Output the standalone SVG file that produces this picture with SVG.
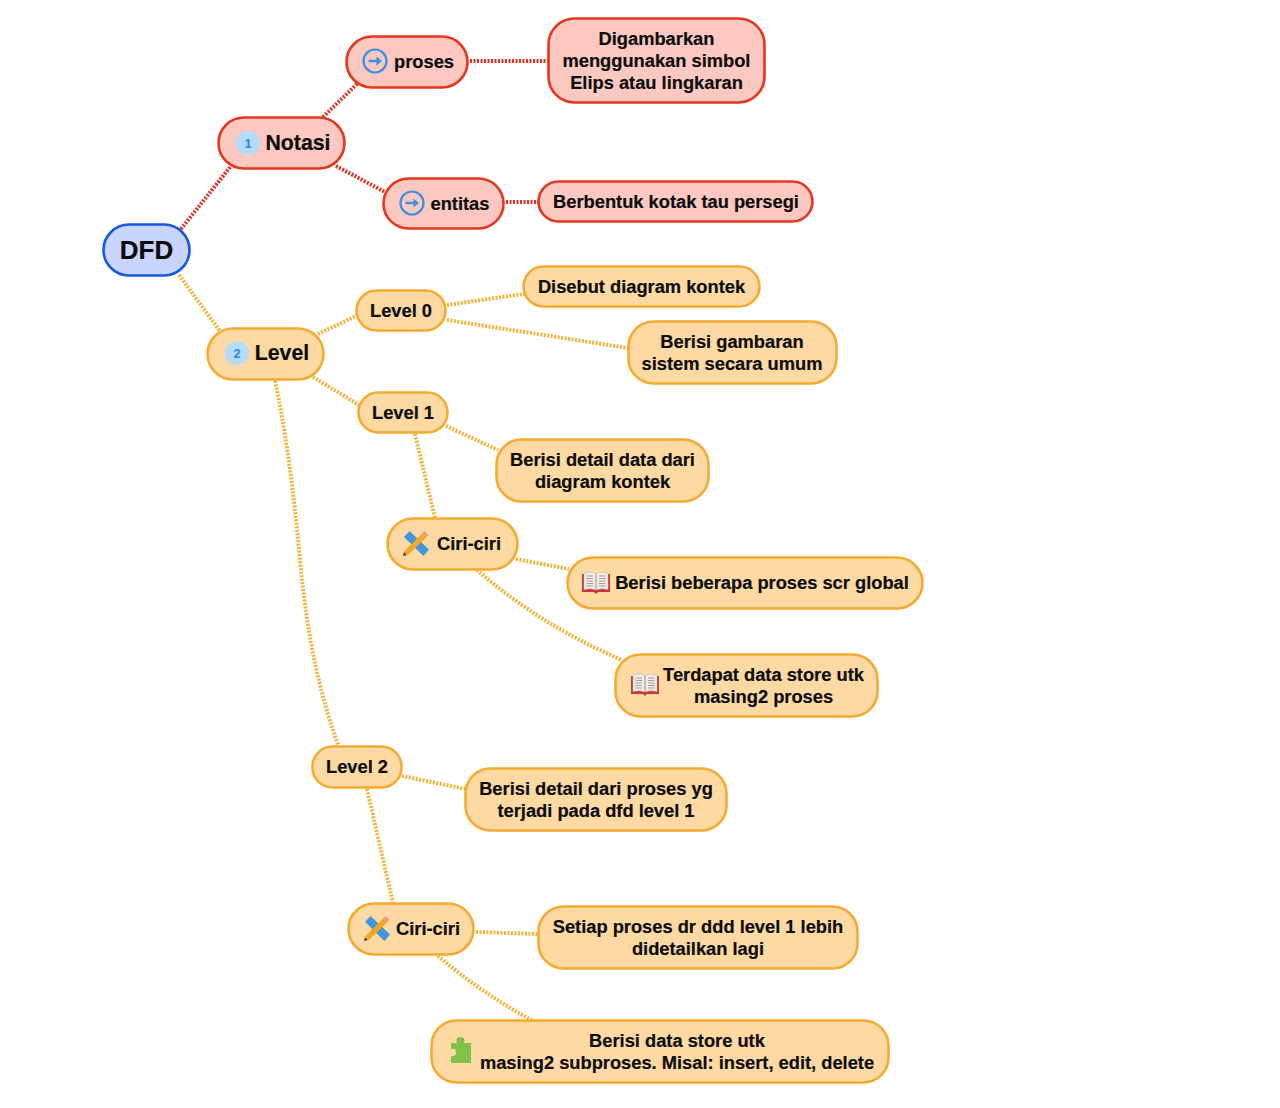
<svg xmlns="http://www.w3.org/2000/svg" xmlns:xlink="http://www.w3.org/1999/xlink" width="1280" height="1108" viewBox="0 0 1280 1108">
<style>
text{font-family:"Liberation Sans",Arial,sans-serif;font-weight:700;fill:#0c0c0c;text-anchor:middle;stroke:#0c0c0c;stroke-width:.2}
.t18{font-size:18.3px}.t21{font-size:21.300px}.t25{font-size:26px}
.box{stroke-width:2.600}
.red{fill:#fcc9c1;stroke:#e6361f}
.ora{fill:#fdd9a4;stroke:#f5ab30}
.blu{fill:#c9d5fc;stroke:#1559dc}
.cr,.co{fill:none;stroke-width:4;stroke-dasharray:2 1.500}
.cr{stroke:#e2321f}.co{stroke:#f5b338}
</style>
<defs>
<symbol id="arrow" viewBox="0 0 26 26" overflow="visible">
<circle cx="13" cy="13" r="11.500" fill="none" stroke="#3a8fe6" stroke-width="2.200"/>
<path d="M6.500 13H18" fill="none" stroke="#3a8fe6" stroke-width="2.400"/>
<path d="M14.500 8.500 20 13 14.500 17.500Z" fill="#3a8fe6"/>
</symbol>
<symbol id="tools" viewBox="0 0 26 26" overflow="visible">
<path d="M1 6 6.500 0 26 18.500 20.500 25Z" fill="#3f97dc"/>
<path d="M0 25 1.500 20 19.500 2 23.500 6 5 24Z" fill="#f5a623"/>
<path d="M19.500 2 21.500 0 25.500 4 23.500 6Z" fill="#ee8f9a"/>
<path d="M0 25 1 21.500 3.500 24Z" fill="#333"/>
</symbol>
<symbol id="book" viewBox="0 0 28 22" overflow="visible">
<path d="M0 2H28V20H16L14 22 12 20H0Z" fill="#c6383a"/>
<path d="M2 1Q9 -1 13.700 1.500V18Q9 16 2 17.500Z M26 1Q19 -1 14.300 1.500V18Q19 16 26 17.500Z" fill="#f0ece6" stroke="#bdb8b2" stroke-width=".5"/>
<path d="M4.500 4H11M4.500 6.500H11M4.500 9H11M4.500 11.500H11M4.500 14H11M17 4H23.500M17 6.500H23.500M17 9H23.500M17 11.500H23.500M17 14H23.500" stroke="#a3a09d" stroke-width="1" fill="none"/>
</symbol>
</defs>

<g id="connectors">
<path class="cr" d="M181 229 231 166"/>
<path class="cr" d="M323 117 358 83"/>
<path class="cr" d="M336 166 385 192"/>
<path class="cr" d="M470 61H548"/>
<path class="cr" d="M506 202H538"/>
<path class="co" d="M179 275 220 331"/>
<path class="co" d="M318 334 356 316"/>
<path class="co" d="M313 377 359 405"/>
<path class="co" d="M275 381Q290 450 300 560T339 747"/>
<path class="co" d="M447 305 524 294"/>
<path class="co" d="M447 320 628 348"/>
<path class="co" d="M446 426 498 450"/>
<path class="co" d="M415 434 435 518"/>
<path class="co" d="M516 559 569 569"/>
<path class="co" d="M477 570Q540 625 622 660"/>
<path class="co" d="M402 776 466 789"/>
<path class="co" d="M367 789 393 903"/>
<path class="co" d="M476 932 538 934"/>
<path class="co" d="M438 956Q480 992 533 1021"/>
</g>

<g id="n-dfd"><rect class="box blu" x="103.500" y="224.500" width="86" height="51" rx="25.500"/><text class="t25" x="146.500" y="259">DFD</text></g>
<g id="n-notasi"><rect class="box red" x="218.500" y="117.500" width="126" height="51" rx="25.500"/><circle cx="248" cy="143" r="12" fill="#b5dcfa"/><text x="248" y="148" font-size="12" style="fill:#2f86d8;stroke:#2f86d8">1</text><text class="t21" x="298" y="150">Notasi</text></g>
<g id="n-proses"><rect class="box red" x="346.500" y="36.500" width="121" height="51" rx="25.500"/><use href="#arrow" x="362" y="48" width="26" height="26"/><text class="t18" x="424" y="68">proses</text></g>
<g id="n-proses-d"><rect class="box red" x="548.500" y="18.500" width="216" height="84" rx="26"/><text class="t18" x="656.500" y="45">Digambarkan</text><text class="t18" x="656.500" y="67">menggunakan simbol</text><text class="t18" x="656.500" y="89">Elips atau lingkaran</text></g>
<g id="n-entitas"><rect class="box red" x="383.500" y="178.500" width="120" height="50" rx="25"/><use href="#arrow" x="399" y="190" width="26" height="26"/><text class="t18" x="460" y="210">entitas</text></g>
<g id="n-entitas-d"><rect class="box red" x="538.500" y="181.500" width="274" height="40" rx="20"/><text class="t18" x="676" y="208">Berbentuk kotak tau persegi</text></g>
<g id="n-level"><rect class="box ora" x="207.500" y="328.500" width="116" height="51" rx="25.500"/><circle cx="237" cy="353" r="12" fill="#b5dcfa"/><text x="237" y="358" font-size="12" style="fill:#2f86d8;stroke:#2f86d8">2</text><text class="t21" x="282" y="360">Level</text></g>
<g id="n-level0"><rect class="box ora" x="356.500" y="290.500" width="89" height="40" rx="20"/><text class="t18" x="401" y="317">Level 0</text></g>
<g id="n-level0-a"><rect class="box ora" x="523.500" y="266.500" width="236" height="40" rx="20"/><text class="t18" x="641.500" y="293">Disebut diagram kontek</text></g>
<g id="n-level0-b"><rect class="box ora" x="628.500" y="321.500" width="208" height="62" rx="25"/><text class="t18" x="732" y="348">Berisi gambaran</text><text class="t18" x="732" y="370">sistem secara umum</text></g>
<g id="n-level1"><rect class="box ora" x="358.500" y="392.500" width="89" height="40" rx="20"/><text class="t18" x="403" y="419">Level 1</text></g>
<g id="n-level1-a"><rect class="box ora" x="496.500" y="439.500" width="212" height="62" rx="25"/><text class="t18" x="602.500" y="466">Berisi detail data dari</text><text class="t18" x="602.500" y="488">diagram kontek</text></g>
<g id="n-ciri1"><rect class="box ora" x="387.500" y="518.500" width="130" height="51" rx="25.500"/><use href="#tools" x="403" y="531" width="26" height="26"/><text class="t18" x="469" y="550">Ciri-ciri</text></g>
<g id="n-ciri1-a"><rect class="box ora" x="567.500" y="557.500" width="355" height="51" rx="25.500"/><use href="#book" x="582" y="572" width="28" height="22"/><text class="t18" x="762" y="589">Berisi beberapa proses scr global</text></g>
<g id="n-ciri1-b"><rect class="box ora" x="615.500" y="654.500" width="262" height="62" rx="25"/><use href="#book" x="631" y="674" width="28" height="22"/><text class="t18" x="763.500" y="681">Terdapat data store utk</text><text class="t18" x="763.500" y="703">masing2 proses</text></g>
<g id="n-level2"><rect class="box ora" x="312.500" y="746.500" width="89" height="41" rx="20"/><text class="t18" x="357" y="773">Level 2</text></g>
<g id="n-level2-a"><rect class="box ora" x="465.500" y="768.500" width="261" height="62" rx="25"/><text class="t18" x="596" y="795">Berisi detail dari proses yg</text><text class="t18" x="596" y="817">terjadi pada dfd level 1</text></g>
<g id="n-ciri2"><rect class="box ora" x="348.500" y="903.500" width="125" height="51" rx="25.500"/><use href="#tools" x="364" y="916" width="26" height="26"/><text class="t18" x="428" y="935">Ciri-ciri</text></g>
<g id="n-ciri2-a"><rect class="box ora" x="538.500" y="906.500" width="319" height="62" rx="25"/><text class="t18" x="698" y="933">Setiap proses dr ddd level 1 lebih</text><text class="t18" x="698" y="955">didetailkan lagi</text></g>
<g id="n-ciri2-b"><rect class="box ora" x="431.500" y="1020.500" width="457" height="62" rx="25"/><path d="M451 1043H457Q455 1037 460.500 1037T464 1043H471V1063H451V1056Q456 1057 456 1052.500T451 1049Z" fill="#83c14a"/><text class="t18" x="677" y="1047">Berisi data store utk</text><text class="t18" x="677" y="1069">masing2 subproses. Misal: insert, edit, delete</text></g>
</svg>
